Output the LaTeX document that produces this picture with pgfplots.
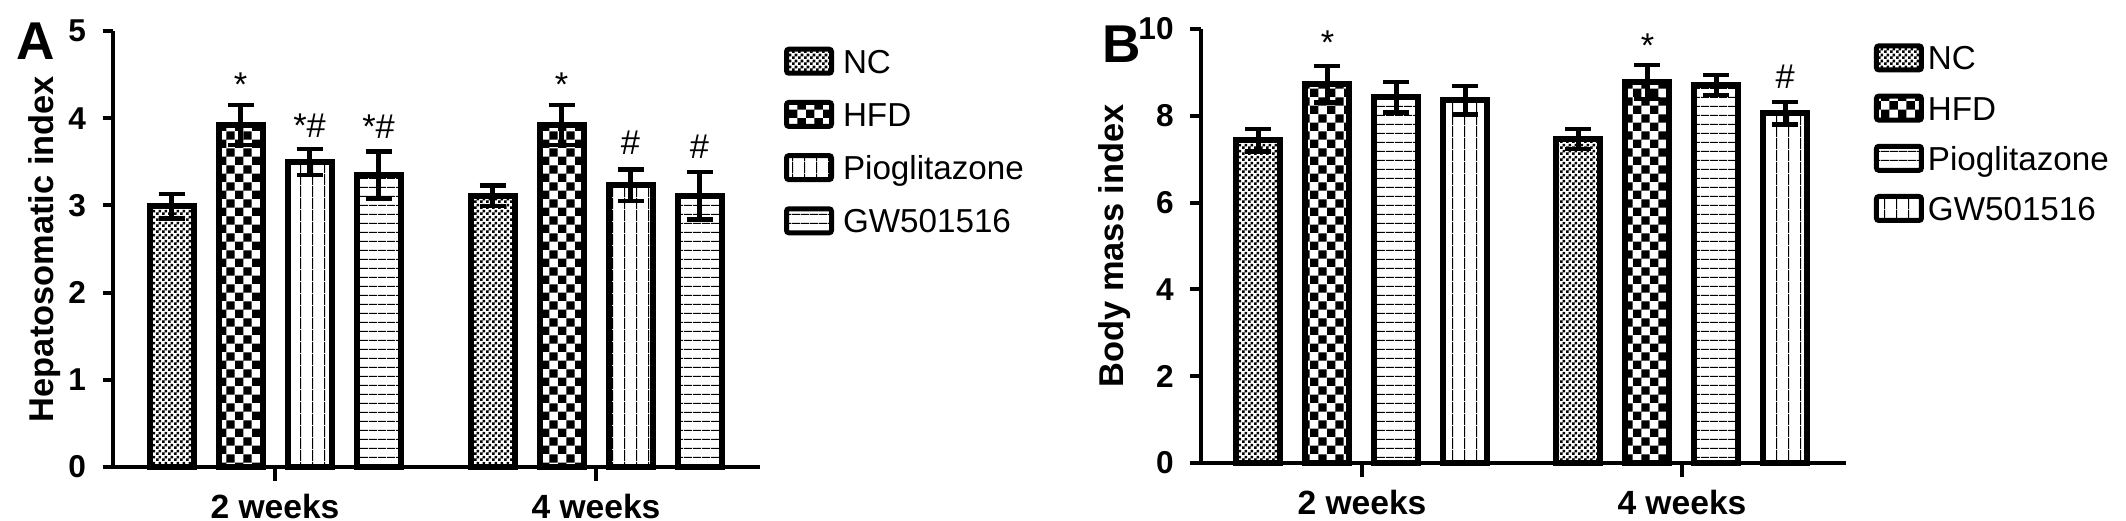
\documentclass[border=0pt]{standalone}
\usepackage{fontspec}
\setmainfont{Liberation Sans}
\usepackage{pgfplots}
\pgfplotsset{compat=1.18}
\usetikzlibrary{patterns}

% GraphPad-like fills
\pgfdeclarepatternformonly{finecheck}{\pgfqpoint{0pt}{0pt}}{\pgfqpoint{1.5pt}{1.5pt}}{\pgfqpoint{1.5pt}{1.5pt}}{%
  \pgfpathrectangle{\pgfqpoint{0pt}{0pt}}{\pgfqpoint{0.75pt}{0.75pt}}%
  \pgfpathrectangle{\pgfqpoint{0.75pt}{0.75pt}}{\pgfqpoint{0.75pt}{0.75pt}}%
  \pgfusepath{fill}}
\pgfdeclarepatternformonly{bigcheck}{\pgfqpoint{0pt}{0pt}}{\pgfqpoint{4.2pt}{4.2pt}}{\pgfqpoint{4.2pt}{4.2pt}}{%
  \pgfpathrectangle{\pgfqpoint{0pt}{0pt}}{\pgfqpoint{2.1pt}{2.1pt}}%
  \pgfpathrectangle{\pgfqpoint{2.1pt}{2.1pt}}{\pgfqpoint{2.1pt}{2.1pt}}%
  \pgfusepath{fill}}
\pgfdeclarepatternformonly{vlines}{\pgfqpoint{0pt}{0pt}}{\pgfqpoint{3pt}{3pt}}{\pgfqpoint{3pt}{3pt}}{%
  \pgfpathrectangle{\pgfqpoint{0pt}{0pt}}{\pgfqpoint{0.3pt}{3pt}}\pgfusepath{fill}}
\pgfdeclarepatternformonly{hlines}{\pgfqpoint{0pt}{0pt}}{\pgfqpoint{2.25pt}{2.25pt}}{\pgfqpoint{2.25pt}{2.25pt}}{%
  \pgfpathrectangle{\pgfqpoint{0pt}{0pt}}{\pgfqpoint{2.25pt}{0.3pt}}\pgfusepath{fill}}

\tikzset{sig/.style={font=\fontsize{8.6}{10}\selectfont, anchor=base, inner sep=0pt}}

\pgfplotsset{
  panel/.style={
    scale only axis, clip=false, anchor=south west,
    axis x line=bottom, axis y line=left,
    axis line style={-, line width=1pt},
    tick align=outside,
    major tick length=3.25pt,
    every tick/.style={line width=1pt, black},
    x tick style={line width=1.1pt, black, /pgfplots/major tick length=3.5pt},
    y tick style={line width=1pt, black, /pgfplots/major tick length=2.6pt},
    xtick={0,1}, xticklabels={2 weeks,4 weeks},
    x tick label style={font=\bfseries\fontsize{8.4}{10}\selectfont},
    y tick label style={font=\bfseries\fontsize{7.9}{9}\selectfont},
    /pgf/number format/assume math mode=true,
    ybar=6.25pt, bar width=11pt,
    legend cell align=left,
    legend style={draw=none, fill=none, anchor=north west, inner sep=0pt, outer sep=0pt,
      font=\fontsize{8.3}{10}\selectfont,
      nodes={inner sep=0pt, text height=6.6pt, text depth=0.6pt}},
  },
  grp/.style={draw=black, line width=1.5pt, pattern=#1,
    legend image code/.code={\draw[##1, line width=1.25pt, rounded corners=0.6pt] (0pt,-3pt) rectangle (11.25pt,3pt);},
    error bars/.cd, y dir=both, y explicit,
    error mark=-,
    error bar style={line width=1.1pt},
    error mark options={rotate=90, line width=1.1pt, mark size=3.25pt}},
}

\begin{document}
\begin{tikzpicture}
\useasboundingbox (0,0) rectangle (531.5pt,130.25pt);

\node[font=\bfseries\fontsize{13.3}{15}\selectfont] at (9pt,120pt) {A};
\node[font=\bfseries\fontsize{13.3}{15}\selectfont] at (280.4pt,119.25pt) {B};

% Panel A
\begin{axis}[panel, at={(28.25pt,13.5pt)}, width=161.75pt, height=109pt,
  xmin=-0.5047, xmax=1.5109, ymin=0, ymax=5, ytick={0,1,2,3,4,5},
  ylabel={Hepatosomatic index},
  ylabel style={font=\bfseries\fontsize{8.6}{10}\selectfont, at={(axis description cs:-0.105,0.5)}, anchor=center},
  legend style={at={(1.0371,0.964)}, row sep=6.05pt, column sep=2.25pt}]
\addplot[grp=finecheck] coordinates {(0,2.99) +- (0,0.14) (1,3.11) +- (0,0.12)};
\addplot[grp=bigcheck] coordinates {(0,3.92) +- (0,0.23) (1,3.92) +- (0,0.23)};
\addplot[grp=vlines] coordinates {(0,3.50) +- (0,0.15) (1,3.23) +- (0,0.18)};
\addplot[grp=hlines] coordinates {(0,3.35) +- (0,0.27) (1,3.11) +- (0,0.27)};
\legend{NC,HFD,Pioglitazone,GW501516}
\node[sig] at (axis cs:-0.1075,4.25) {*};
\node[sig] at (axis cs:0.1075,3.78) {*\#};
\node[sig] at (axis cs:0.3225,3.77) {*\#};
\node[sig] at (axis cs:0.8925,4.25) {*};
\node[sig] at (axis cs:1.1075,3.58) {\#};
\node[sig] at (axis cs:1.3225,3.54) {\#};
\end{axis}

% Panel B
\begin{axis}[panel, at={(300.175pt,14.575pt)}, width=161.3pt, height=108.4pt,
  xmin=-0.504, xmax=1.5125, ymin=0, ymax=10, ytick={0,2,4,6,8,10},
  ylabel={Body mass index},
  ylabel style={font=\bfseries\fontsize{8.6}{10}\selectfont, at={(axis description cs:-0.1333,0.5)}, anchor=center},
  legend style={at={(1.0434,0.967)}, row sep=5.3pt, column sep=1pt}]
\addplot[grp=finecheck] coordinates {(0,7.44) +- (0,0.26) (1,7.47) +- (0,0.23)};
\addplot[grp=bigcheck] coordinates {(0,8.73) +- (0,0.42) (1,8.78) +- (0,0.39)};
\addplot[grp=hlines] coordinates {(0,8.43) +- (0,0.35) (1,8.71) +- (0,0.23)};
\addplot[grp=vlines] coordinates {(0,8.36) +- (0,0.33) (1,8.06) +- (0,0.26)};
\legend{NC,HFD,Pioglitazone,GW501516}
\node[sig] at (axis cs:-0.1075,9.42) {*};
\node[sig] at (axis cs:0.8925,9.35) {*};
\node[sig] at (axis cs:1.3225,8.64) {\#};
\end{axis}
\end{tikzpicture}
\end{document}
